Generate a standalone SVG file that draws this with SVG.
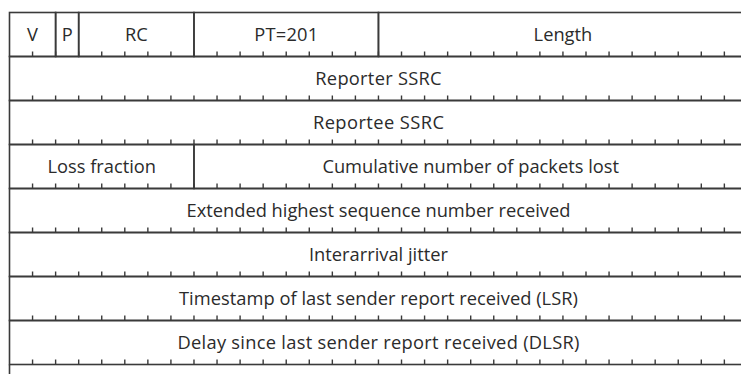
<svg xmlns="http://www.w3.org/2000/svg" xmlns:xlink="http://www.w3.org/1999/xlink" width="741" height="374" viewBox="0 0 741 374">
<style>
.f{fill:none;stroke:#3a3a3a;stroke-width:1.6}
.t{font-family:"Open Sans","Noto Sans","Liberation Sans",sans-serif;font-size:18.3px;fill:#2b2b2b;text-anchor:middle}
.tk{fill:none;stroke:#3a3a3a;stroke-width:1.4}
</style>
<defs>
<path id="ticks" class="tk" d="M32.56 0v-5M55.62 0v-5M78.68 0v-5M101.74 0v-5M124.8 0v-5M147.86 0v-5M170.92 0v-5M193.98 0v-5M217.04 0v-5M240.1 0v-5M263.16 0v-5M286.22 0v-5M309.28 0v-5M332.34 0v-5M355.4 0v-5M378.46 0v-5M401.52 0v-5M424.58 0v-5M447.64 0v-5M470.7 0v-5M493.76 0v-5M516.82 0v-5M539.88 0v-5M562.94 0v-5M586 0v-5M609.06 0v-5M632.12 0v-5M655.18 0v-5M678.24 0v-5M701.3 0v-5M724.36 0v-5"/>
</defs>
<rect width="741" height="374" fill="#ffffff"/>
<g id="v"><rect class="f" x="9.5" y="12.5" width="46.12" height="44"/><text class="t" x="32.56" y="40.5">V</text></g>
<g id="p"><rect class="f" x="55.62" y="12.5" width="23.06" height="44"/><text class="t" x="67.15" y="40.5">P</text></g>
<g id="rc"><rect class="f" x="78.68" y="12.5" width="115.3" height="44"/><text class="t" x="136.33" y="40.5">RC</text></g>
<g id="pt"><rect class="f" x="193.98" y="12.5" width="184.48" height="44"/><text class="t" x="286.22" y="40.5" textLength="64">PT=201</text></g>
<g id="length"><rect class="f" x="378.46" y="12.5" width="368.96" height="44"/><text class="t" x="562.94" y="40.5">Length</text></g>
<g id="reporter-ssrc"><rect class="f" x="9.5" y="56.5" width="737.92" height="44"/><text class="t" x="378.46" y="84.5" textLength="126.3">Reporter SSRC</text></g>
<g id="reportee-ssrc"><rect class="f" x="9.5" y="100.5" width="737.92" height="44"/><text class="t" x="378.46" y="128.5" textLength="131">Reportee SSRC</text></g>
<g id="loss-fraction"><rect class="f" x="9.5" y="144.5" width="184.48" height="44"/><text class="t" x="101.74" y="172.5">Loss fraction</text></g>
<g id="cumulative-lost"><rect class="f" x="193.98" y="144.5" width="553.44" height="44"/><text class="t" x="470.7" y="172.5">Cumulative number of packets lost</text></g>
<g id="ext-highest-seq"><rect class="f" x="9.5" y="188.5" width="737.92" height="44"/><text class="t" x="378.46" y="216.5">Extended highest sequence number received</text></g>
<g id="jitter"><rect class="f" x="9.5" y="232.5" width="737.92" height="44"/><text class="t" x="378.46" y="260.5">Interarrival jitter</text></g>
<g id="lsr"><rect class="f" x="9.5" y="276.5" width="737.92" height="44"/><text class="t" x="378.46" y="304.5" textLength="399">Timestamp of last sender report received (LSR)</text></g>
<g id="dlsr"><rect class="f" x="9.5" y="320.5" width="737.92" height="44"/><text class="t" x="378.46" y="348.5" textLength="402">Delay since last sender report received (DLSR)</text></g>
<g id="connectors">
<path class="f" d="M9.5 364.5V374"/>
<use xlink:href="#ticks" y="56.5"/>
<use xlink:href="#ticks" y="100.5"/>
<use xlink:href="#ticks" y="144.5"/>
<use xlink:href="#ticks" y="188.5"/>
<use xlink:href="#ticks" y="232.5"/>
<use xlink:href="#ticks" y="276.5"/>
<use xlink:href="#ticks" y="320.5"/>
<use xlink:href="#ticks" y="364.5"/>
</g>
</svg>
